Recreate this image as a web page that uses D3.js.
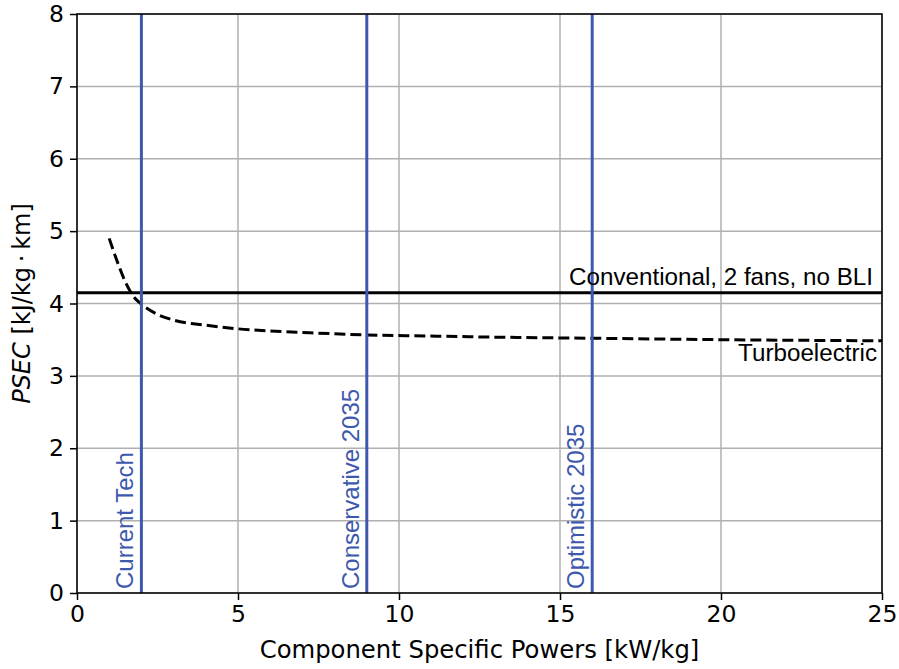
<!DOCTYPE html>
<html>
<head>
<meta charset="utf-8">
<script src="https://cdn.jsdelivr.net/npm/d3@7"></script>
<style>
  body { margin: 0; background: #fff; }
  svg { display: block; }
</style>
</head>
<body>
<svg id="chart" width="899" height="669"></svg>
<script>
// ---- data ----
const xTicks = [0, 5, 10, 15, 20, 25];
const yTicks = [0, 1, 2, 3, 4, 5, 6, 7, 8];
const turboX = [1, 1.25, 1.5, 1.75, 2, 2.5, 3, 4, 5, 6, 7, 9, 11, 13, 16, 20, 25];
const turboY = [4.90, 4.58, 4.30, 4.10, 3.99, 3.85, 3.77, 3.70, 3.65, 3.62, 3.60, 3.565, 3.55, 3.535, 3.52, 3.50, 3.485];
const conventionalY = 4.15;
const techNames = ["Current Tech", "Conservative 2035", "Optimistic 2035"];
const techPowers = [2, 9, 16];

// ---- layout ----
const svg = d3.select("#chart");
const L = 77, R = 882, T = 14, B = 593;
const x = d3.scaleLinear().domain([0, 25]).range([L, R]);
const y = d3.scaleLinear().domain([0, 8]).range([B, T]);
const tickFont = "'DejaVu Sans', sans-serif";
const labelFont = "'Liberation Sans', Arial, sans-serif";
const blue = "#3d58ad";

// grid
svg.append("g").selectAll("line.gx").data(xTicks).join("line")
  .attr("x1", d => x(d)).attr("x2", d => x(d)).attr("y1", T).attr("y2", B)
  .attr("stroke", "#b0b0b0").attr("stroke-width", 1.5);
svg.append("g").selectAll("line.gy").data(yTicks).join("line")
  .attr("x1", L).attr("x2", R).attr("y1", d => y(d)).attr("y2", d => y(d))
  .attr("stroke", "#b0b0b0").attr("stroke-width", 1.5);

// conventional line
svg.append("line")
  .attr("x1", L).attr("x2", R).attr("y1", y(conventionalY)).attr("y2", y(conventionalY))
  .attr("stroke", "#000").attr("stroke-width", 3);

// turboelectric curve
const pts = turboX.map((d, i) => [d, turboY[i]]);
svg.append("path")
  .attr("d", d3.line().x(d => x(d[0])).y(d => y(d[1])).curve(d3.curveMonotoneX)(pts))
  .attr("fill", "none").attr("stroke", "#000").attr("stroke-width", 3)
  .attr("stroke-dasharray", "11,5");

// vertical tech lines
svg.append("g").selectAll("line").data(techPowers).join("line")
  .attr("x1", d => x(d)).attr("x2", d => x(d)).attr("y1", T).attr("y2", B)
  .attr("stroke", blue).attr("stroke-width", 3);
svg.append("g").selectAll("text").data(techPowers).join("text")
  .attr("transform", d => `translate(${x(d) - 8},${B - 4}) rotate(-90)`)
  .attr("font-family", labelFont).attr("font-size", 24).attr("fill", blue)
  .text((d, i) => techNames[i]);

// series labels
svg.append("text").attr("x", 873).attr("y", 285).attr("text-anchor", "end")
  .attr("font-family", labelFont).attr("font-size", 24.2).attr("fill", "#000")
  .text("Conventional, 2 fans, no BLI");
svg.append("text").attr("x", 877).attr("y", 361).attr("text-anchor", "end")
  .attr("font-family", labelFont).attr("font-size", 24.2).attr("fill", "#000")
  .text("Turboelectric");

// axes
const xAxis = d3.axisBottom(x).tickValues(xTicks).tickSize(7).tickPadding(5).tickFormat(d3.format("d"));
const yAxis = d3.axisLeft(y).tickValues(yTicks).tickSize(7).tickPadding(6).tickFormat(d3.format("d"));
const gx = svg.append("g").attr("transform", `translate(0,${B})`).call(xAxis);
const gy = svg.append("g").attr("transform", `translate(${L},0)`).call(yAxis);
[gx, gy].forEach(g => {
  g.select(".domain").remove();
  g.selectAll(".tick line").attr("stroke", "#000").attr("stroke-width", 1.5);
  g.selectAll(".tick text").attr("font-family", tickFont).attr("font-size", 23.5).attr("fill", "#000");
});

// frame
svg.append("rect").attr("x", L).attr("y", T).attr("width", R - L).attr("height", B - T)
  .attr("fill", "none").attr("stroke", "#000").attr("stroke-width", 1.5);

// axis titles
svg.append("text").attr("x", (L + R) / 2).attr("y", 658).attr("text-anchor", "middle")
  .attr("font-family", tickFont).attr("font-size", 24.3).attr("fill", "#000")
  .text("Component Specific Powers [kW/kg]");
const yl = svg.append("text").attr("transform", `translate(30,${(T + B) / 2}) rotate(-90)`)
  .attr("text-anchor", "middle").attr("font-family", tickFont).attr("font-size", 24).attr("fill", "#000");
yl.append("tspan").attr("font-style", "italic").text("PSEC");
yl.append("tspan").text(" [kJ/kg\u2009\u00b7\u2009km]");
</script>
</body>
</html>
